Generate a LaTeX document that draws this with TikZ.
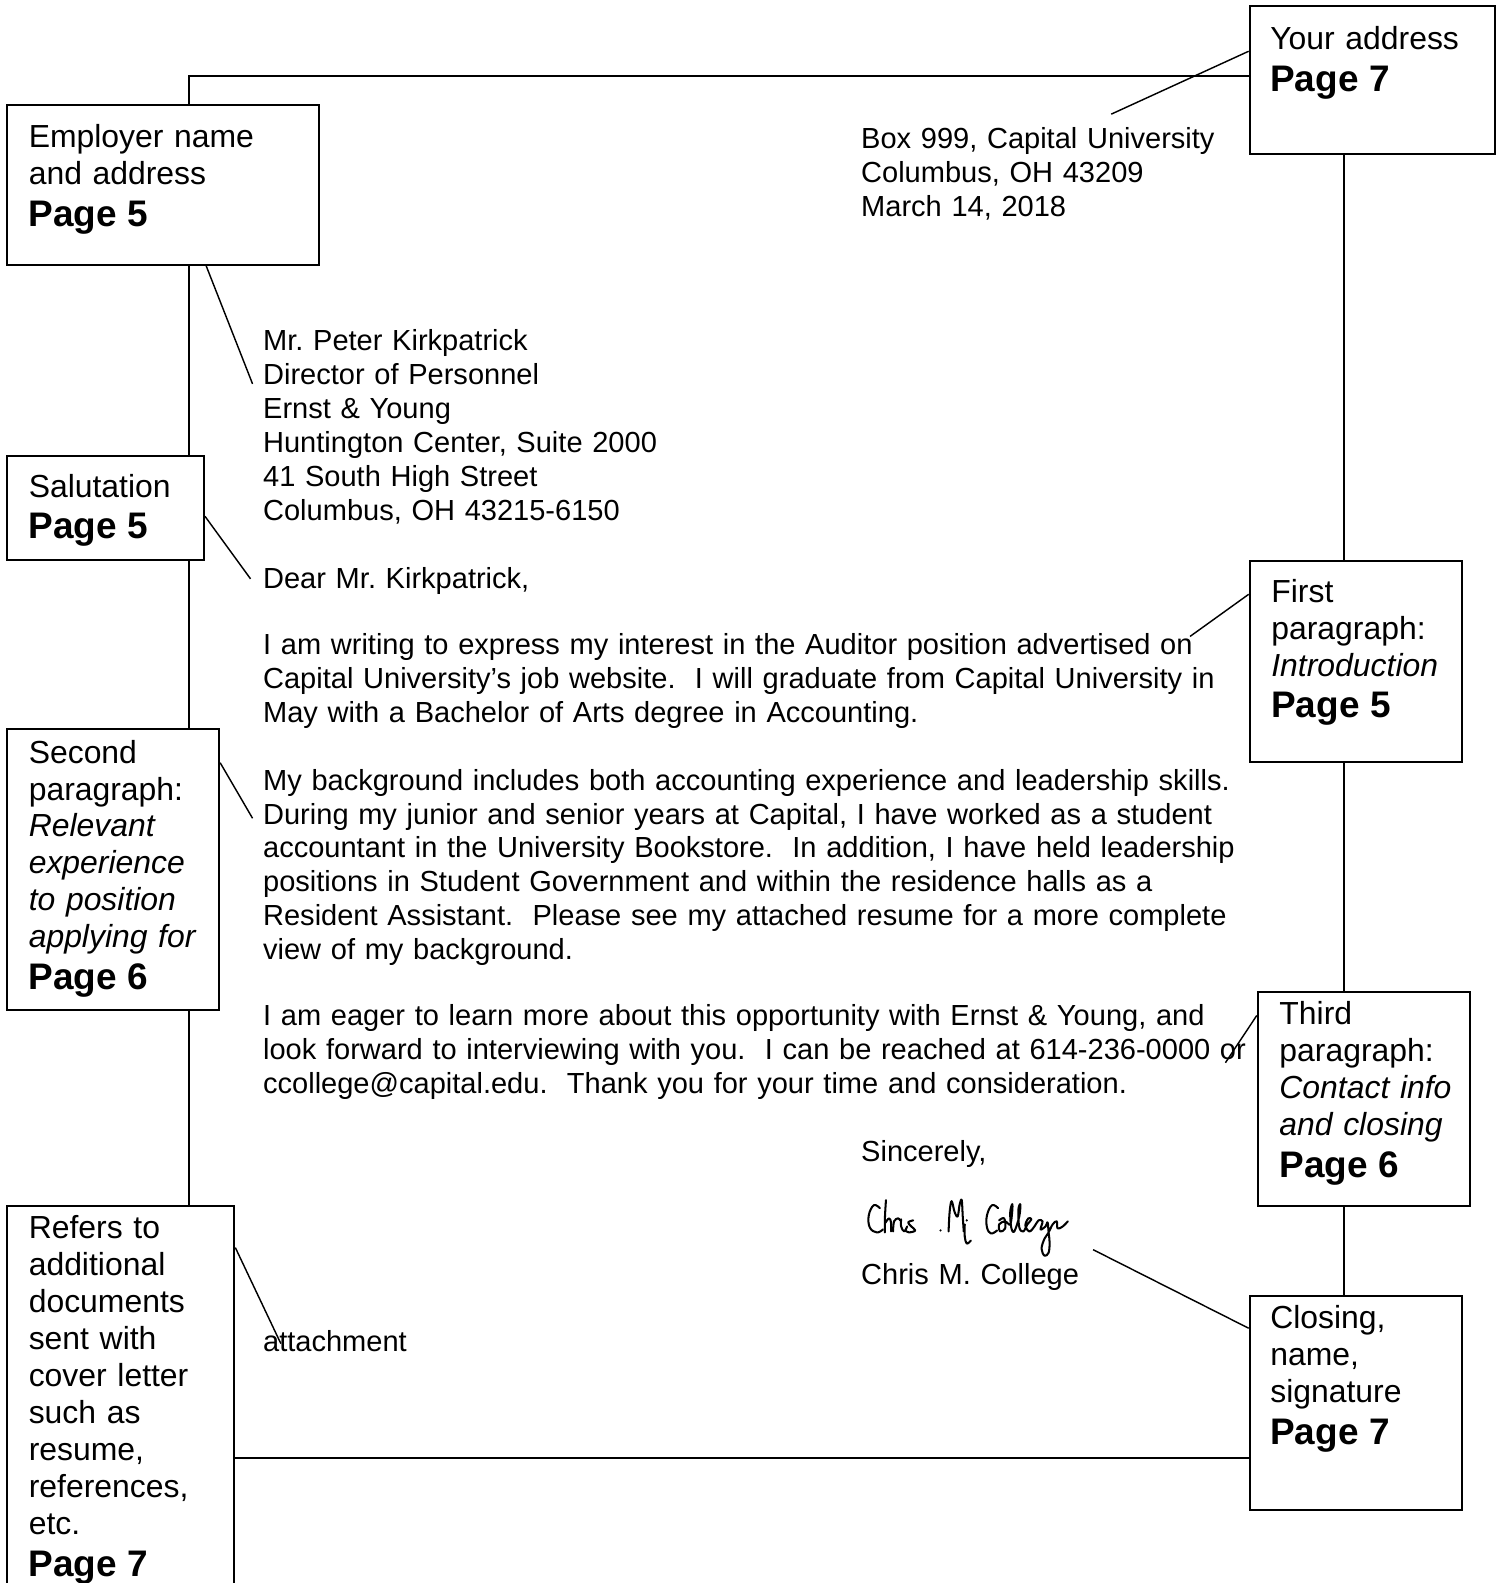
\documentclass[tikz,border=0pt]{standalone}
\usepackage{fontspec}
\setmainfont{Liberation Sans}
\usetikzlibrary{fit}
\newcommand\letterfont{\fontsize{12.1}{14.1}\selectfont}
\newcommand\boxfont{\fontsize{13.3}{15.4}\selectfont}
\newcommand\pagefont{\fontsize{15.4}{17}\selectfont\bfseries}
\newcommand\pageline{\\[1.9pt]\pagefont}

\begin{document}
\frenchspacing
\begin{tikzpicture}[x=0.421pt, y=-0.421pt]

\tikzstyle{box} = [draw, line width=0.8pt, inner sep=0pt]
\tikzstyle{boxtext} = [anchor=north west, inner sep=0pt, align=left, text width=130pt, font=\boxfont]
\tikzstyle{letter} = [anchor=north west, inner sep=0pt, align=left, text width=440pt, font=\letterfont]
\tikzstyle{frame} = [line width=0.8pt]
\tikzstyle{ptr} = [line width=0.6pt]
\tikzstyle{sig} = [line width=0.85pt, line cap=round, line join=round]

\node[box, fit={(1237,6) (1480,152)}] (addr) {};
\node[box, fit={(7,104) (316,262)}] (emp) {};
\node[box, fit={(7,451) (202,554)}] (sal) {};
\node[box, fit={(1237,555) (1447,754)}] (fst) {};
\node[box, fit={(7,722) (217,1000)}] (sec) {};
\node[box, fit={(1245,982) (1455,1194)}] (thd) {};
\node[box, fit={(1237,1283) (1447,1495)}] (clo) {};
\node[box, fit={(7,1194) (232,1600)}] (ref) {};

\node[boxtext] (addrtxt) at (1257,26) {Your address\pageline Page 7};
\node[boxtext] (emptxt) at (28,123) {Employer name\\and address\pageline Page 5};
\node[boxtext] (saltxt) at (28,469) {Salutation\pageline Page 5};
\node[boxtext] (fsttxt) at (1258,573) {First\\paragraph:\\{\itshape Introduction}\pageline Page 5};
\node[boxtext] (sectxt) at (28,732) {Second\\paragraph:\\{\itshape Relevant}\\{\itshape experience}\\{\itshape to position}\\{\itshape applying for}\pageline Page 6};
\node[boxtext] (thdtxt) at (1266,991) {Third\\paragraph:\\{\itshape Contact info}\\{\itshape and closing}\pageline Page 6};
\node[boxtext] (clotxt) at (1257,1292) {Closing,\\name,\\signature\pageline Page 7};
\node[boxtext] (reftxt) at (28,1203) {Refers to\\additional\\documents\\sent with\\cover letter\\such as\\resume,\\references,\\etc.\pageline Page 7};

\node[letter] (retaddr) at (852,126) {Box 999, Capital University\\Columbus, OH 43209\\March 14, 2018};
\node[letter] (inaddr) at (260,326) {Mr. Peter Kirkpatrick\\Director of Personnel\\Ernst \& Young\\Huntington Center, Suite 2000\\41 South High Street\\Columbus, OH 43215-6150};
\node[letter] (greet) at (260,561) {Dear Mr. Kirkpatrick,};
\node[letter] (para1) at (260,627) {I am writing to express my interest in the Auditor position advertised on\\Capital University’s job website.~ I will graduate from Capital University in\\May with a Bachelor of Arts degree in Accounting.};
\node[letter] (para2) at (260,761) {My background includes both accounting experience and leadership skills.\\During my junior and senior years at Capital, I have worked as a student\\accountant in the University Bookstore.~ In addition, I have held leadership\\positions in Student Government and within the residence halls as a\\Resident Assistant.~ Please see my attached resume for a more complete\\view of my background.};
\node[letter] (para3) at (260,994) {I am eager to learn more about this opportunity with Ernst \& Young, and\\look forward to interviewing with you.~ I can be reached at 614-236-0000 or\\ccollege@capital.edu.~ Thank you for your time and consideration.};
\node[letter] (regards) at (852,1128) {Sincerely,};
\node[letter] (name) at (852,1250) {Chris M. College};
\node[letter] (attach) at (260,1317) {attachment};

\coordinate (tl) at (187,75);
\coordinate (tr) at (1330,75);
\coordinate (bl) at (187,1443);

\draw[frame] (emp.north -| tl) -- (tl) -- (tl -| addr.west);
\draw[frame] (emp.south -| tl) -- (sal.north -| tl);
\draw[frame] (sal.south -| tl) -- (sec.north -| tl);
\draw[frame] (sec.south -| tl) -- (ref.north -| tl);
\draw[frame] (ref.east |- bl) -- (bl -| clo.west);
\draw[frame] (addr.south -| tr) -- (fst.north -| tr);
\draw[frame] (fst.south -| tr) -- (thd.north -| tr);
\draw[frame] (thd.south -| tr) -- (clo.north -| tr);

\coordinate (addrend) at (1100,113);
\coordinate (empend) at (250,380);
\coordinate (salend) at (248,573);
\coordinate (fstend) at (1178,630);
\coordinate (secend) at (250,810);
\coordinate (thdend) at (1213,1052);
\coordinate (cloend) at (1082,1237);
\coordinate (refend) at (278,1330);

\draw[ptr] (addr.167) -- (addrend);
\draw[ptr] (emp.-62) -- (empend);
\draw[ptr] (sal.-5) -- (salend);
\draw[ptr] (fst.148) -- (fstend);
\draw[ptr] (sec.45) -- (secend);
\draw[ptr] (thd.142) -- (thdend);
\draw[ptr] (clo.145) -- (cloend);
\draw[ptr] (ref.55) -- (refend);

% signature
\draw[sig] plot[smooth, tension=.7] coordinates {(871,1196) (865,1193) (860,1203) (861,1215) (868,1220) (874,1217)};
\draw[sig] plot[smooth, tension=.6] coordinates {(877,1188) (876,1205) (876,1220)};
\draw[sig] plot[smooth, tension=.6] coordinates {(876,1211) (880,1206) (882,1210) (882,1219)};
\draw[sig] plot[smooth, tension=.6] coordinates {(884,1219) (885,1209) (889,1206) (891,1208)};
\draw[sig] plot[smooth, tension=.6] coordinates {(892,1207) (892,1214) (895,1219) (898,1214)};
\draw[sig] plot[smooth, tension=.6] coordinates {(904,1208) (899,1210) (902,1214) (906,1218) (900,1220) (896,1218)};
\fill (931,1218) circle (1.2);
\draw[sig] plot[smooth, tension=.6] coordinates {(939,1219) (940,1200) (942,1189) (945,1200) (948,1204) (950,1192) (952,1188) (953,1204) (954,1219)};
\draw[sig] plot[smooth, tension=.6] coordinates {(955,1212) (955,1224) (957,1231) (961,1228)};
\fill (957,1208) circle (1.2);
\draw[sig] plot[smooth, tension=.7] coordinates {(988,1196) (982,1193) (977,1203) (977,1215) (981,1221) (987,1218)};
\draw[sig] plot[smooth, tension=.6] coordinates {(989,1208) (994,1206) (995,1216) (990,1219) (989,1212) (995,1209) (1000,1212) (1002,1199) (1002,1192) (1000,1200) (1001,1215) (1004,1219) (1009,1204) (1010,1192) (1008,1198) (1009,1215) (1013,1219) (1017,1212) (1021,1207) (1018,1206) (1015,1213) (1019,1219) (1024,1214) (1028,1208) (1032,1209) (1030,1217) (1035,1214) (1037,1210) (1038,1220) (1039,1230) (1038,1240) (1034,1243) (1031,1236) (1034,1226) (1038,1220) (1042,1212) (1046,1209) (1047,1216) (1052,1214) (1057,1209)};

\pgfresetboundingbox
\useasboundingbox (0,0) rectangle (1485,1567);

\end{tikzpicture}
\end{document}
